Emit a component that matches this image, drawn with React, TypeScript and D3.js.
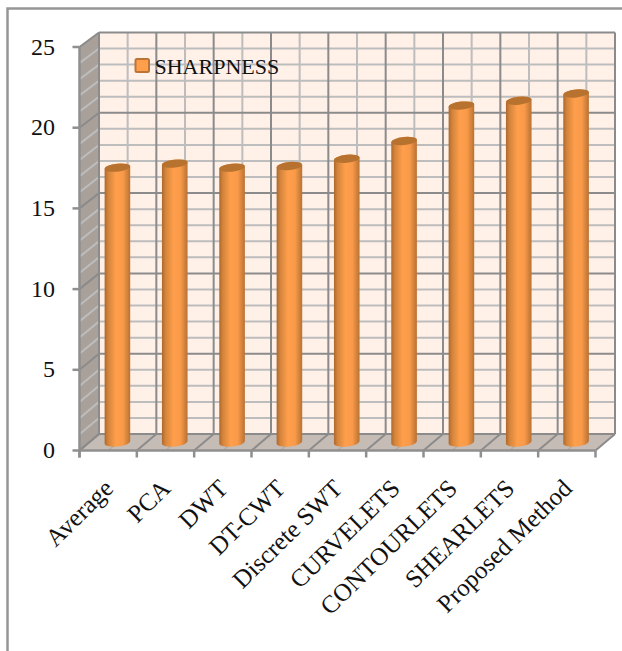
import React from "react";
import * as d3 from "d3";

const categories = ["Average", "PCA", "DWT", "DT-CWT", "Discrete SWT", "CURVELETS", "CONTOURLETS", "SHEARLETS", "Proposed Method"];
const sharpness = [17.05, 17.3, 17.05, 17.15, 17.6, 18.7, 20.9, 21.2, 21.65];
const majorTicks = [0, 5, 10, 15, 20, 25];
const minorTicks = d3.range(0, 26);
const seriesName = "SHARPNESS";

const W = 622, H = 651;
const SERIF = "'Liberation Serif', serif";
const INK = "#111";
const MAJOR = "#8b8b8b";
const MINOR = "#bdbdbd";

// Front plane of the 3D box; the back wall is offset by depth.
const frontX = d3.scaleLinear().domain([0, categories.length]).range([79.5, 595.5]);
const frontY = d3.scaleLinear().domain([0, 25]).range([450.5, 47]);
const backX = d3.scaleLinear().domain([0, categories.length]).range([99, 615]);
const backY = d3.scaleLinear().domain([0, 25]).range([434, 32.5]);
// Bars stand on the mid-depth plane.
const barY = d3.scaleLinear().domain([0, 25]).range([442.5, 39.5]);
const barX = (i: number) => (frontX(i + 0.5) + backX(i + 0.5)) / 2 - 0.5;

const BAR_RX = 12.8;
const BAR_RY = 4;
const TILT = 0.105;

function cylinder(cx: number, top: number, bottom: number) {
  const l = cx - BAR_RX, r = cx + BAR_RX;
  const dy = BAR_RX * TILT;
  return `M${l},${top + dy} L${l},${bottom + dy} A${BAR_RX},${BAR_RY} -6 0 0 ${r},${bottom - dy} L${r},${top - dy} A${BAR_RX},${BAR_RY} -6 0 0 ${l},${top + dy} Z`;
}

export default function App() {
  const halfSteps = d3.range(0, categories.length * 2 + 1).map((d) => d / 2);
  return (
    <svg width={W} height={H} style={{ position: "absolute", left: 0, top: 0, background: "#fff" }}>
      <defs>
        <linearGradient id="barBody" x1="0" x2="1" y1="0" y2="0">
          <stop offset="0" stopColor="#ad682d" />
          <stop offset="0.14" stopColor="#d4843b" />
          <stop offset="0.45" stopColor="#ff9f4c" />
          <stop offset="0.72" stopColor="#f99a49" />
          <stop offset="1" stopColor="#b87233" />
        </linearGradient>
      </defs>

      {/* outer frame, running off the page at right and bottom */}
      <path d={`M${W},8.5 L7.5,8.5 L7.5,${H}`} fill="none" stroke="#969696" strokeWidth={2.5} />

      {/* back wall */}
      <rect x={backX(0)} y={backY(25)} width={backX(9) - backX(0)} height={backY(0) - backY(25)} fill="#fff0e8" />
      {/* side wall */}
      <polygon
        points={`${frontX(0)},${frontY(0)} ${frontX(0)},${frontY(25)} ${backX(0)},${backY(25)} ${backX(0)},${backY(0)}`}
        fill="#a9a09a"
      />
      {/* floor */}
      <polygon
        points={`${frontX(0)},${frontY(0)} ${frontX(9)},${frontY(0)} ${backX(9)},${backY(0)} ${backX(0)},${backY(0)}`}
        fill="#c6bcb6"
      />

      {/* minor gridlines */}
      {minorTicks.filter((t) => t % 5 !== 0).map((t) => (
        <g key={`m${t}`} stroke={MINOR} strokeWidth={2}>
          <line x1={backX(0)} x2={backX(9)} y1={backY(t)} y2={backY(t)} />
          <line x1={frontX(0)} x2={backX(0)} y1={frontY(t)} y2={backY(t)} />
        </g>
      ))}
      {halfSteps.filter((t) => t % 1 !== 0).map((t) => (
        <g key={`v${t}`}>
          <line x1={backX(t)} x2={backX(t)} y1={backY(25)} y2={backY(0)} stroke={MINOR} strokeWidth={2} />
          <line x1={frontX(t)} x2={backX(t)} y1={frontY(0)} y2={backY(0)} stroke="#b3aaa4" strokeWidth={1.5} />
        </g>
      ))}

      {/* major gridlines */}
      {majorTicks.map((t) => (
        <g key={`M${t}`} stroke={MAJOR} strokeWidth={2}>
          <line x1={backX(0)} x2={backX(9)} y1={backY(t)} y2={backY(t)} />
          <line x1={frontX(0)} x2={backX(0)} y1={frontY(t)} y2={backY(t)} />
        </g>
      ))}
      {halfSteps.filter((t) => t % 1 === 0).map((t) => (
        <g key={`V${t}`} stroke={MAJOR} strokeWidth={2}>
          <line x1={backX(t)} x2={backX(t)} y1={backY(25)} y2={backY(0)} />
          <line x1={frontX(t)} x2={backX(t)} y1={frontY(0)} y2={backY(0)} />
        </g>
      ))}

      {/* axes */}
      <g stroke="#8f8f8f" strokeWidth={2.5} fill="none">
        <line x1={frontX(0)} x2={frontX(0)} y1={frontY(25)} y2={frontY(0) + 7} />
        <line x1={frontX(0)} x2={frontX(9)} y1={frontY(0)} y2={frontY(0)} />
        {majorTicks.map((t) => (
          <line key={t} x1={frontX(0) - 7} x2={frontX(0)} y1={frontY(t)} y2={frontY(t)} />
        ))}
        {halfSteps.filter((t) => t % 1 === 0).map((t) => (
          <line key={t} x1={frontX(t)} x2={frontX(t)} y1={frontY(0)} y2={frontY(0) + 7} />
        ))}
      </g>

      {/* cylinders */}
      {sharpness.map((v, i) => {
        const cx = barX(i);
        const top = barY(v);
        return (
          <g key={categories[i]}>
            <path d={cylinder(cx, top, barY(0))} fill="url(#barBody)" />
            <ellipse
              cx={cx}
              cy={top}
              rx={BAR_RX}
              ry={BAR_RY}
              transform={`rotate(-6 ${cx} ${top})`}
              fill="#b8722f"
            />
          </g>
        );
      })}

      {/* legend */}
      <rect x={135.5} y={59} width={13.5} height={13} rx={1.5} fill="#ff9f4c" stroke="#bb7433" strokeWidth={2} />
      <text x={154.5} y={74} fontFamily={SERIF} fontSize={22} fill={INK}>{seriesName}</text>

      {/* value labels */}
      {majorTicks.map((t) => (
        <text key={t} x={55} y={frontY(t) + 7.5} textAnchor="end" fontFamily={SERIF} fontSize={24} fill={INK}>
          {t}
        </text>
      ))}

      {/* category labels */}
      {categories.map((c, i) => (
        <text
          key={c}
          transform={`translate(${frontX(i + 0.5) + 6.5},490) rotate(-44.5)`}
          textAnchor="end"
          fontFamily={SERIF}
          fontSize={25}
          fill={INK}
        >
          {c}
        </text>
      ))}
    </svg>
  );
}
